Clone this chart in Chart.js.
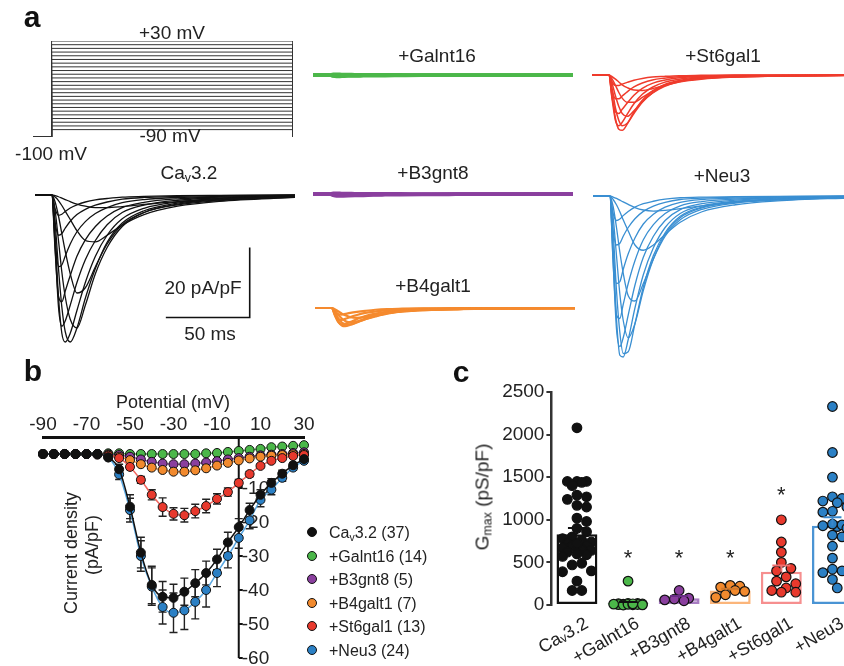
<!DOCTYPE html>
<html>
<head>
<meta charset="utf-8">
<script src="https://cdn.jsdelivr.net/npm/chart.js@4.4.0/dist/chart.umd.min.js"></script>
<style>
html, body { margin: 0; padding: 0; width: 844px; height: 666px; overflow: hidden; background: #fff; }
body { position: relative; font-family: "Liberation Sans", Arial, sans-serif; color: #222; }
canvas { position: absolute; }
.t { position: absolute; transform: translate(-50%, -50%); white-space: nowrap; font-size: 19px; line-height: 1; }
.big { font-weight: bold; font-size: 30px; color: #111; }
.rot { position: absolute; transform: translate(-50%, -50%) rotate(-90deg); white-space: nowrap; font-size: 19px; line-height: 1; }
sub { font-size: 0.65em; vertical-align: -0.25em; line-height: 0; }
#legend { position: absolute; left: 307px; top: 521px; font-size: 16px; line-height: 23.6px; white-space: nowrap; }
#legend .dot { display: inline-block; width: 8px; height: 8px; border-radius: 50%; border: 1px solid #111; margin-right: 12px; vertical-align: 1px; }
</style>
</head>
<body>
<canvas id="protocol" width="270" height="120" style="left:28px;top:30px"></canvas>
<canvas id="trCav"></canvas>
<canvas id="trGalnt"></canvas>
<canvas id="trB3"></canvas>
<canvas id="trB4"></canvas>
<canvas id="trSt6"></canvas>
<canvas id="trNeu"></canvas>
<canvas id="ivChart" width="320" height="286" style="left:0px;top:380px"></canvas>
<canvas id="gmaxChart" width="418" height="296" style="left:440px;top:370px"></canvas>

<div class="t big" style="left:32px;top:17px">a</div>
<div class="t" style="left:172px;top:32px">+30 mV</div>
<div class="t" style="left:170px;top:135px">-90 mV</div>
<div class="t" style="left:51px;top:153px">-100 mV</div>
<div class="t" style="left:189px;top:172px">Ca<sub>v</sub>3.2</div>
<div class="t" style="left:437px;top:55px">+Galnt16</div>
<div class="t" style="left:433px;top:172px">+B3gnt8</div>
<div class="t" style="left:433px;top:285px">+B4galt1</div>
<div class="t" style="left:723px;top:55px">+St6gal1</div>
<div class="t" style="left:722px;top:175px">+Neu3</div>
<div class="t" style="left:203px;top:287px">20 pA/pF</div>
<div class="t" style="left:210px;top:333px">50 ms</div>

<div class="t big" style="left:33px;top:371px">b</div>
<div class="t" style="left:173px;top:402px;font-size:18px">Potential (mV)</div>
<div class="rot" style="left:71px;top:553px;font-size:18px">Current density</div>
<div class="rot" style="left:92px;top:545px;font-size:18px">(pA/pF)</div>
<div id="legend"></div>

<div class="t big" style="left:461px;top:372px">c</div>
<div class="rot" style="left:482px;top:497px">G<sub>max</sub> (pS/pF)</div>

<script>
// ---- panel a: voltage protocol ----
const holdingPotential = -100;
const stepPotentials = [-90, -85, -80, -75, -70, -65, -60, -55, -50, -45, -40, -35, -30,
  -25, -20, -15, -10, -5, 0, 5, 10, 15, 20, 25, 30];
const protocolTimes = [-11, 0, 143];

// ---- panel a: current traces (pA/pF) sampled at traceTimes (ms) ----
const traceTimes = [-10, 0, 2, 4, 6, 8, 11, 15, 20, 26, 33, 42, 55, 75, 100, 145];

const cav32Traces = [
  [0, 0, -0.2, -0.5, -0.9, -1.3, -1.9, -2.6, -3.2, -3.6, -3.6, -3.3, -2.7, -1.9, -1.2, -0.5],
  [0, 0, -0.6, -1.6, -3, -4.6, -7, -10.2, -13, -13.4, -11.5, -8.6, -5.6, -3.2, -1.8, -0.7],
  [0, 0, -2, -6, -11, -16, -22.5, -28, -26.5, -20.5, -14, -8.5, -5, -2.8, -1.6, -0.6],
  [0, 0, -4.5, -13, -22, -29, -35.5, -38, -31.5, -22.5, -15, -9, -5, -2.6, -1.4, -0.5],
  [0, 0, -8, -21, -32, -39, -42, -38, -29.5, -21, -13.5, -8, -4.5, -2.3, -1.2, -0.4],
  [0, 0, -12, -29, -39.5, -42, -39.5, -33, -25, -17.5, -11.5, -6.8, -3.8, -2, -1, -0.4],
  [0, 0, -15, -32, -37.5, -36, -31.5, -25, -18.5, -13, -8.5, -5, -2.9, -1.5, -0.8, -0.3],
  [0, 0, -16, -29, -30.5, -27.5, -23, -17.5, -12.8, -9, -6, -3.6, -2.1, -1.1, -0.6, -0.2],
  [0, 0, -13, -20.5, -20, -17.5, -14, -10.5, -7.6, -5.3, -3.6, -2.2, -1.3, -0.7, -0.4, -0.1],
  [0, 0, -8, -11.5, -11, -9.5, -7.5, -5.6, -4.1, -2.9, -2, -1.2, -0.7, -0.4, -0.2, 0],
  [0, 0, -4, -5.8, -5.5, -4.7, -3.7, -2.8, -2, -1.4, -1, -0.6, -0.4, -0.2, -0.1, 0]
];
const galnt16Traces = [
  [0, 0, -0.3, -0.4, -0.4, -0.35, -0.3, -0.3, -0.25, -0.2, -0.2, -0.15, -0.1, -0.1, -0.05, 0],
  [0, 0, -0.2, -0.2, -0.2, -0.2, -0.15, -0.15, -0.1, -0.1, -0.1, -0.05, 0, 0, 0, 0],
  [0, 0, 0.2, 0.2, 0.2, 0.15, 0.15, 0.1, 0.1, 0.1, 0.05, 0.05, 0, 0, 0, 0]
];
const b3gnt8Traces = [
  [0, 0, -0.4, -0.6, -0.6, -0.55, -0.5, -0.45, -0.4, -0.3, -0.25, -0.2, -0.15, -0.1, -0.05, 0],
  [0, 0, -0.2, -0.3, -0.3, -0.3, -0.25, -0.2, -0.2, -0.15, -0.1, -0.1, -0.05, 0, 0, 0],
  [0, 0, 0.2, 0.2, 0.2, 0.15, 0.15, 0.1, 0.1, 0.1, 0.05, 0.05, 0, 0, 0, 0]
];
const b4galt1Traces = [
  [0, 0, -0.4, -1, -1.6, -2.1, -2.6, -2.8, -2.6, -2.1, -1.5, -1, -0.6, -0.3, -0.2, -0.1],
  [0, 0, -0.8, -2, -3, -3.7, -4.1, -3.9, -3.2, -2.4, -1.6, -1, -0.6, -0.3, -0.2, -0.1],
  [0, 0, -1.4, -3.1, -4.2, -4.7, -4.7, -4.1, -3.2, -2.3, -1.5, -0.9, -0.5, -0.3, -0.2, -0.1],
  [0, 0, -2, -4, -5, -5.2, -4.8, -4, -3, -2.1, -1.4, -0.8, -0.5, -0.3, -0.1, 0],
  [0, 0, -2.3, -4.1, -4.7, -4.5, -4, -3.2, -2.3, -1.6, -1, -0.6, -0.3, -0.2, -0.1, 0],
  [0, 0, -2, -3.2, -3.4, -3.1, -2.6, -2, -1.4, -1, -0.6, -0.4, -0.2, -0.1, 0, 0],
  [0, 0, -1.2, -1.8, -1.9, -1.7, -1.4, -1.1, -0.8, -0.5, -0.3, -0.2, -0.1, 0, 0, 0]
];
const st6gal1Traces = [
  [0, 0, -0.5, -1.2, -2, -2.8, -3.6, -4.3, -4.4, -3.9, -3, -2, -1.2, -0.6, -0.3, -0.1],
  [0, 0, -1.2, -3, -5, -6.6, -7.8, -7.8, -6.4, -4.6, -3, -1.8, -1, -0.5, -0.3, -0.1],
  [0, 0, -2.5, -6, -9, -11, -11.8, -10.2, -7.6, -5.2, -3.3, -1.9, -1, -0.5, -0.3, -0.1],
  [0, 0, -4, -9.5, -13, -14.5, -13.8, -11, -7.8, -5.1, -3.1, -1.8, -0.9, -0.5, -0.3, -0.1],
  [0, 0, -6, -12.5, -15.5, -15.8, -14, -10.6, -7.2, -4.6, -2.8, -1.6, -0.8, -0.4, -0.2, -0.1],
  [0, 0, -7, -13, -14.5, -13.5, -11.2, -8.2, -5.5, -3.5, -2.1, -1.2, -0.6, -0.3, -0.2, -0.1],
  [0, 0, -6.5, -10.5, -11, -9.8, -8, -5.8, -3.8, -2.4, -1.5, -0.8, -0.4, -0.2, -0.1, 0],
  [0, 0, -4.5, -6.8, -6.8, -6, -4.8, -3.4, -2.3, -1.4, -0.9, -0.5, -0.3, -0.1, -0.1, 0],
  [0, 0, -2, -3, -3, -2.6, -2.1, -1.5, -1, -0.6, -0.4, -0.2, -0.1, 0, 0, 0]
];
const neu3Traces = [
  [0, 0, -0.3, -0.7, -1.2, -1.7, -2.4, -3.3, -4, -4.3, -4.1, -3.6, -2.8, -1.8, -1.1, -0.4],
  [0, 0, -1, -2.5, -4.5, -6.8, -10, -14, -15.5, -14, -11, -7.5, -4.5, -2.5, -1.4, -0.5],
  [0, 0, -3, -9, -16, -22, -28.5, -30, -25, -18, -11.5, -6.8, -3.8, -2, -1.1, -0.4],
  [0, 0, -6, -17, -28, -35.5, -40.5, -36.5, -27, -18, -11, -6.2, -3.4, -1.8, -1, -0.3],
  [0, 0, -10, -27, -39, -45, -44.5, -36.5, -26, -17, -10.5, -5.8, -3.2, -1.7, -0.9, -0.3],
  [0, 0, -15, -35, -45.5, -46, -41, -32, -22.5, -14.8, -9, -5, -2.8, -1.5, -0.8, -0.3],
  [0, 0, -19, -38, -43, -40.5, -34, -25.5, -17.5, -11.5, -7, -3.9, -2.2, -1.2, -0.6, -0.2],
  [0, 0, -19, -34, -35, -31, -25, -18.5, -12.5, -8.2, -5, -2.8, -1.6, -0.9, -0.5, -0.2],
  [0, 0, -16, -25, -24.5, -21, -16.5, -12, -8, -5.2, -3.2, -1.8, -1, -0.6, -0.3, -0.1],
  [0, 0, -10, -14, -13.5, -11.5, -9, -6.5, -4.4, -2.9, -1.8, -1, -0.6, -0.3, -0.2, 0],
  [0, 0, -5, -7, -6.6, -5.6, -4.4, -3.2, -2.2, -1.5, -0.9, -0.5, -0.3, -0.2, -0.1, 0]
];
// scale bar: 50 ms x 20 pA/pF, corner at (118 ms, -35 pA/pF)
const scaleBarMs = 50;
const scaleBarPApF = 20;
const scaleBarCorner = [118, -35];

// ---- panel b: I-V relationship ----
const potentials = [-90, -85, -80, -75, -70, -65, -60, -55, -50, -45, -40, -35, -30,
  -25, -20, -15, -10, -5, 0, 5, 10, 15, 20, 25, 30];
const potentialTicks = [-90, -70, -50, -30, -10, 10, 30];
const currentTicks = [-10, -20, -30, -40, -50, -60];
const ivCav32 = [0, 0, 0, 0, 0, 0, -1, -4.5, -15.5, -29, -38.5, -42, -42.3, -40.5, -38, -35, -31, -26, -21.5, -16.5, -12, -8.5, -5.8, -3.3, -1.5];
const ivCav32Err = [0, 0, 0, 0, 0, 0, 0.5, 1.5, 3.5, 4.5, 5.5, 4.5, 4, 4, 4, 3.5, 3, 3, 2.5, 2, 1.5, 1.2, 1, 0.8, 0.5];
const ivGalnt16 = [0, 0, 0, 0, 0, 0, 0.2, 0.2, 0, 0, 0, 0, 0, 0, 0, 0.2, 0.3, 0.6, 0.9, 1.2, 1.5, 2, 2.2, 2.4, 2.6];
const ivB3gnt8 = [0, 0, 0, 0, 0, 0, -0.1, -0.3, -0.8, -1.6, -2.3, -2.8, -3, -3, -2.8, -2.5, -2.1, -1.6, -1.2, -0.8, -0.4, -0.2, 0, 0.3, 0.5];
const ivB4galt1 = [0, 0, 0, 0, 0, 0, -0.3, -0.8, -1.8, -3, -4, -4.7, -5.2, -5.2, -4.8, -4.2, -3.4, -2.6, -1.9, -1.3, -0.8, -0.5, -0.3, -0.1, 0];
const ivSt6gal1 = [0, 0, 0, 0, 0, -0.2, -0.5, -1.2, -3.8, -7.6, -12, -15.6, -17.6, -18, -16.8, -15.3, -13.2, -11.2, -8.5, -5.9, -3.5, -2, -1.2, -0.6, -0.3];
const ivSt6gal1Err = [0, 0, 0, 0, 0, 0, 0.2, 0.5, 0.8, 1, 1.5, 2.7, 1.8, 2, 2, 2, 1.5, 1.2, 1, 0.8, 0.5, 0.4, 0.3, 0.2, 0.2];
const ivNeu3 = [0, 0, 0, 0, 0, 0, -1, -6, -16.5, -30, -39, -45, -46.7, -46, -43.5, -40, -35, -30, -24.7, -19.5, -13.5, -10.5, -7, -4, -2];
const ivNeu3Err = [0, 0, 0, 0, 0, 0, 0.5, 1.5, 3.5, 4.5, 5.5, 5, 5.8, 5.6, 5, 5, 4, 3.5, 3, 2.5, 2, 1.5, 1, 0.8, 0.5];

// ---- panel c: Gmax (pS/pF) ----
const groupLabels = ['Caᵥ3.2', '+Galnt16', '+B3gnt8', '+B4galt1', '+St6gal1', '+Neu3'];
const groupLegend = ['Ca<sub>v</sub>3.2', '+Galnt16', '+B3gnt8', '+B4galt1', '+St6gal1', '+Neu3'];
const groupN = [37, 14, 5, 7, 13, 24];
const gmaxTicks = [0, 500, 1000, 1500, 2000, 2500];
const gmaxMean = [830, 20, 80, 170, 390, 930];
const gmaxSem = [75, 15, 25, 20, 75, 100];
const gmaxStar = [null, 590, 590, 590, 1330, null];
const gmaxCav32 = [2080, 1450, 1450, 1440, 1450, 1400, 1290, 1240, 1270, 1150, 1170, 1020, 980, 900, 860,
  800, 780, 760, 740, 720, 700, 690, 670, 650, 640, 620, 600, 590, 570, 490, 470, 400, 390, 280, 170, 170, 720];
const gmaxGalnt16 = [280, 15, 10, 5, 0, 20, 8, 12, 3, 18, 6, 10, 14, 2];
const gmaxB3gnt8 = [170, 80, 60, 50, 70];
const gmaxB4galt1 = [220, 230, 210, 170, 160, 120, 90];
const gmaxSt6gal1 = [1000, 740, 620, 500, 430, 400, 330, 280, 250, 200, 150, 150, 170];
const gmaxNeu3 = [2330, 1790, 1500, 1250, 1220, 1270, 1200, 1100, 1090, 930, 920, 940, 900, 820, 800,
  690, 550, 420, 400, 380, 300, 200, 1150, 950];
const gmaxPoints = [gmaxCav32, gmaxGalnt16, gmaxB3gnt8, gmaxB4galt1, gmaxSt6gal1, gmaxNeu3];

// colours
const dotColors = ['#111111', '#4bb749', '#8a3f9e', '#f28a2e', '#e8392d', '#2b80c5'];
const traceColors = ['#111111', '#4bb749', '#8a3f9e', '#f58a2e', '#ef3b2c', '#3a8fd2'];
const fitColors = ['#111111', '#5cbf5e', '#9b59b6', '#f59a4a', '#f2665e', '#5aa8e2'];
const barEdge = ['#111111', '#3fa046', '#a87cc2', '#fbb57a', '#f68f8f', '#4a94d4'];
const barFill = ['#ffffff', '#4bb749', 'rgba(168,124,194,0.45)', '#ffffff', '#ffffff', '#ffffff'];
const errColors = ['#111111', '#111111', '#6a2f86', '#d2782a', '#f07070', '#3a88cc'];

const FONT = '"Liberation Sans", Arial, sans-serif';
Chart.defaults.font.family = FONT;
Chart.defaults.color = '#222';
Chart.defaults.animation = false;
Chart.defaults.responsive = false;
Chart.defaults.plugins.legend.display = false;
Chart.defaults.plugins.tooltip.enabled = false;

// ---- voltage protocol ----
new Chart(document.getElementById('protocol'), {
  type: 'line',
  data: {
    datasets: stepPotentials.map(v => ({
      data: [
        { x: protocolTimes[0], y: holdingPotential },
        { x: protocolTimes[1], y: holdingPotential },
        { x: protocolTimes[1], y: v },
        { x: protocolTimes[2], y: v },
        { x: protocolTimes[2], y: holdingPotential }
      ],
      borderColor: '#333', borderWidth: 1, pointRadius: 0, tension: 0
    }))
  },
  options: {
    layout: { padding: { left: 5, right: 5, top: 11, bottom: 13 } },
    scales: {
      x: { type: 'linear', display: false, min: protocolTimes[0], max: protocolTimes[2] },
      y: { display: false, min: holdingPotential, max: 30 }
    }
  }
});

// ---- current trace panels ----
const MS_PX = 1.68, PA_PX = 3.5, PAD = 3;

function tracePanel(id, traces, color, lineWidth, onsetX, baselineY, extra) {
  const cv = document.getElementById(id);
  const tMin = traceTimes[0], tMax = traceTimes[traceTimes.length - 1];
  const yMax = 2, yMin = -50;
  cv.width = Math.round((tMax - tMin) * MS_PX + 2 * PAD);
  cv.height = Math.round((yMax - yMin) * PA_PX + 2 * PAD);
  cv.style.left = (onsetX + tMin * MS_PX - PAD) + 'px';
  cv.style.top = (baselineY - yMax * PA_PX - PAD) + 'px';
  return new Chart(cv, {
    type: 'line',
    data: {
      datasets: traces.map(tr => ({
        data: traceTimes.map((t, i) => ({ x: t, y: tr[i] })),
        borderColor: color, borderWidth: lineWidth, pointRadius: 0,
        cubicInterpolationMode: 'monotone', fill: false
      }))
    },
    options: {
      layout: { padding: PAD },
      scales: {
        x: { type: 'linear', display: false, min: tMin, max: tMax },
        y: { display: false, min: yMin, max: yMax }
      }
    },
    plugins: extra || []
  });
}

const scaleBarPlugin = {
  id: 'scaleBar',
  afterDraw(chart) {
    const { ctx, scales: { x, y } } = chart;
    const xr = x.getPixelForValue(scaleBarCorner[0]);
    const xl = x.getPixelForValue(scaleBarCorner[0] - scaleBarMs);
    const yb = y.getPixelForValue(scaleBarCorner[1]);
    const yt = y.getPixelForValue(scaleBarCorner[1] + scaleBarPApF);
    ctx.save();
    ctx.strokeStyle = '#111';
    ctx.lineWidth = 1.6;
    ctx.beginPath();
    ctx.moveTo(xr, yt); ctx.lineTo(xr, yb); ctx.lineTo(xl, yb);
    ctx.stroke();
    ctx.restore();
  }
};

tracePanel('trCav', cav32Traces, traceColors[0], 1.3, 52, 195, [scaleBarPlugin]);
tracePanel('trGalnt', galnt16Traces, traceColors[1], 3.5, 330, 75);
tracePanel('trB3', b3gnt8Traces, traceColors[2], 3.5, 330, 194);
tracePanel('trB4', b4galt1Traces, traceColors[3], 2.2, 332, 308);
tracePanel('trSt6', st6gal1Traces, traceColors[4], 1.5, 609, 75);
tracePanel('trNeu', neu3Traces, traceColors[5], 1.3, 610, 196);

// ---- panel b ----
// first dataset is drawn on top
const ivSeries = [
  { vals: ivCav32, err: ivCav32Err, idx: 0 },
  { vals: ivNeu3, err: ivNeu3Err, idx: 5 },
  { vals: ivSt6gal1, err: ivSt6gal1Err, idx: 4 },
  { vals: ivB4galt1, err: null, idx: 3 },
  { vals: ivB3gnt8, err: null, idx: 2 },
  { vals: ivGalnt16, err: null, idx: 1 }
];

const ivAxisPlugin = {
  id: 'ivAxis',
  beforeDatasetsDraw(chart) {
    const { ctx, chartArea, scales: { x, y } } = chart;
    const x0 = x.getPixelForValue(0);
    ctx.save();
    ctx.strokeStyle = '#111';
    ctx.lineWidth = 2;
    ctx.beginPath();
    ctx.moveTo(x0, chartArea.top);
    ctx.lineTo(x0, y.getPixelForValue(currentTicks[currentTicks.length - 1]));
    ctx.stroke();
    ctx.font = '19px ' + FONT;
    ctx.fillStyle = '#222';
    ctx.textAlign = 'left';
    ctx.textBaseline = 'middle';
    currentTicks.forEach(v => {
      const py = y.getPixelForValue(v);
      ctx.beginPath(); ctx.moveTo(x0, py); ctx.lineTo(x0 + 4, py); ctx.stroke();
      ctx.fillText(String(v), x0 + 3, py + 1);
    });
    // error bars
    ctx.strokeStyle = '#222';
    ctx.lineWidth = 1.4;
    chart.data.datasets.forEach(ds => {
      if (!ds.errors) return;
      ds.data.forEach((p, i) => {
        const e = ds.errors[i];
        if (!e) return;
        const px = x.getPixelForValue(p.x);
        const ya = y.getPixelForValue(p.y + e), yb = y.getPixelForValue(p.y - e);
        ctx.beginPath();
        ctx.moveTo(px, ya); ctx.lineTo(px, yb);
        ctx.moveTo(px - 4, ya); ctx.lineTo(px + 4, ya);
        ctx.moveTo(px - 4, yb); ctx.lineTo(px + 4, yb);
        ctx.stroke();
      });
    });
    ctx.restore();
  }
};

new Chart(document.getElementById('ivChart'), {
  type: 'line',
  data: {
    datasets: ivSeries.map(s => ({
      data: potentials.map((v, i) => ({ x: v, y: s.vals[i] })),
      errors: s.err,
      borderColor: fitColors[s.idx],
      borderWidth: 1.5,
      backgroundColor: dotColors[s.idx],
      pointBackgroundColor: dotColors[s.idx],
      pointBorderColor: '#111',
      pointBorderWidth: 1,
      pointRadius: 4.5,
      cubicInterpolationMode: 'monotone',
      clip: false
    }))
  },
  options: {
    layout: { padding: { left: 43, right: 16, top: 0, bottom: 8 } },
    scales: {
      x: {
        type: 'linear', position: 'top', min: -90, max: 30,
        afterFit: s => { s.height = 57; },
        afterBuildTicks: s => { s.ticks = potentialTicks.map(v => ({ value: v })); },
        grid: { display: false, drawTicks: false },
        border: { display: true, color: '#111', width: 3 },
        ticks: { font: { size: 19 }, color: '#222', padding: 1 }
      },
      y: { display: false, min: -60, max: 5 }
    }
  },
  plugins: [ivAxisPlugin]
});

// legend for panel b
const legendEl = document.getElementById('legend');
groupLegend.forEach((name, i) => {
  const row = document.createElement('div');
  row.innerHTML = '<span class="dot" style="background:' + dotColors[i] + '"></span>' + name + ' (' + groupN[i] + ')';
  legendEl.appendChild(row);
});

// ---- panel c ----
function swarmOffsets(pys, r, maxOff) {
  const order = pys.map((v, i) => i).sort((a, b) => pys[a] - pys[b]);
  const placed = [];
  const offs = new Array(pys.length).fill(0);
  const cands = [0];
  for (let k = 1; k * r <= maxOff; k++) { cands.push(k * r, -k * r); }
  order.forEach(i => {
    let best = 0, bestD = -1;
    for (const o of cands) {
      let d = Infinity;
      placed.forEach(p => {
        const dd = Math.hypot(p.x - o, p.y - pys[i]);
        if (dd < d) d = dd;
      });
      if (d >= 2 * r * 0.98) { best = o; bestD = d; break; }
      if (d > bestD) { bestD = d; best = o; }
    }
    offs[i] = best;
    placed.push({ x: best, y: pys[i] });
  });
  return offs;
}

const gmaxMarksPlugin = {
  id: 'gmaxMarks',
  afterDatasetsDraw(chart) {
    const { ctx, scales: { x, y } } = chart;
    const r = 4.8;
    ctx.save();
    gmaxPoints.forEach((vals, g) => {
      const cx = x.getPixelForValue(g);
      const pys = vals.map(v => y.getPixelForValue(v));
      const offs = swarmOffsets(pys, r, 17);
      ctx.fillStyle = dotColors[g];
      ctx.strokeStyle = '#111';
      ctx.lineWidth = 1.2;
      pys.forEach((py, i) => {
        ctx.beginPath();
        ctx.arc(cx + offs[i], py, r, 0, Math.PI * 2);
        ctx.fill();
        ctx.stroke();
      });
      // mean + SEM
      const ym = y.getPixelForValue(gmaxMean[g]);
      const ys = y.getPixelForValue(gmaxMean[g] + gmaxSem[g]);
      ctx.strokeStyle = errColors[g];
      ctx.lineWidth = 2;
      ctx.beginPath();
      ctx.moveTo(cx, ym); ctx.lineTo(cx, ys);
      ctx.moveTo(cx - 9, ys); ctx.lineTo(cx + 9, ys);
      ctx.stroke();
      // significance marks
      if (gmaxStar[g] !== null) {
        ctx.fillStyle = '#222';
        ctx.font = '22px ' + FONT;
        ctx.textAlign = 'center';
        ctx.textBaseline = 'middle';
        ctx.fillText('*', cx, y.getPixelForValue(gmaxStar[g]) + 4);
      }
    });
    ctx.restore();
  }
};

new Chart(document.getElementById('gmaxChart'), {
  type: 'bar',
  data: {
    labels: groupLabels,
    datasets: [{
      data: gmaxMean,
      backgroundColor: barFill,
      borderColor: barEdge,
      borderWidth: 2.5,
      borderSkipped: false,
      barPercentage: 0.8,
      categoryPercentage: 1
    }]
  },
  options: {
    layout: { padding: { top: 22, left: 0, right: 0, bottom: 0 } },
    scales: {
      x: {
        afterFit: s => { s.height = 61; },
        grid: { display: false },
        border: { display: false },
        ticks: { font: { size: 18 }, color: '#222', minRotation: 30, maxRotation: 30, autoSkip: false, padding: 0, labelOffset: 10 }
      },
      y: {
        min: 0, max: 2500,
        afterFit: s => { s.width = 111.4; },
        afterBuildTicks: s => { s.ticks = gmaxTicks.map(v => ({ value: v })); },
        grid: { drawOnChartArea: false, drawTicks: true, tickLength: 5, color: '#333', lineWidth: 2 },
        border: { color: '#333', width: 2.5 },
        ticks: { font: { size: 19 }, color: '#222', padding: 2, callback: v => String(v) }
      }
    }
  },
  plugins: [gmaxMarksPlugin]
});
</script>
</body>
</html>
